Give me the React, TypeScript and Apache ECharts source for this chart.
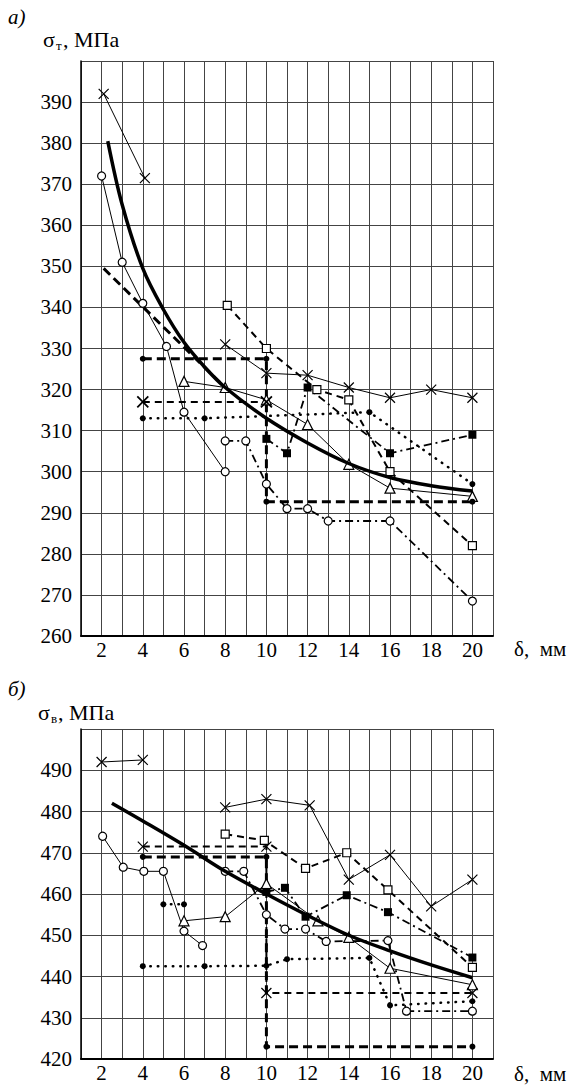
import React, { useEffect, useRef } from "react";
import * as echarts from "echarts";

const FONT = "Liberation Serif";

// ---------- Panel а) σт ----------
const tXTicks = [2, 4, 6, 8, 10, 12, 14, 16, 18, 20];
const tCrossA = [[2.1, 392], [4.1, 371.5]];
const tCrossB = [[8, 331], [10, 324], [12, 323.5], [14, 320.5], [16, 318], [18, 320], [20, 318]];
const tCircleSolid = [[2, 372], [3, 351], [4, 341], [5.15, 330.5], [6, 314.5], [8, 300]];
const tTriangle = [[6, 322], [8, 320.5], [10, 317.5], [12, 311.5], [14, 301.8], [16, 296], [20, 294]];
const tFit = [[2.3, 380.5], [3, 365], [4, 349.5], [5, 339.5], [6, 331.5], [7, 325.5], [8, 320.5], [10, 313], [12, 307], [14, 302], [16, 298.6], [18, 296.6], [20, 295.3]];
const tFitLinear = [[2.1, 349.5], [8, 320.5]];
const tDotDashThick = [[4, 327.5], [10, 327.5], [10, 292.7], [20, 292.7]];
const tCrossDashed = [[4, 317], [10, 317]];
const tDotted = [[4, 313], [7, 313], [15, 314.5], [20, 297]];
const tFilledSq = [[10, 308], [11, 304.5], [12, 320.5], [16, 304.5], [20, 309]];
const tOpenSq = [[8.1, 340.5], [10, 330], [12.45, 320], [14, 317.5], [16, 300], [20, 282]];
const tCircleDashDot = [[8, 307.5], [9, 307.5], [10, 297], [11, 291], [12, 291], [13, 288], [16, 288], [20, 268.5]];

// ---------- Panel б) σв ----------
const bCrossA = [[2, 492], [4, 492.5]];
const bCrossB = [[8, 481], [10, 483], [12.1, 481.5], [14, 463.5], [16, 469.5], [18, 457], [20, 463.5]];
const bFit = [[2.5, 482], [4, 477.7], [6, 471.8], [8, 465.5], [10, 460], [12, 454.8], [14, 450], [16, 446.2], [18, 442.8], [20, 439.7]];
const bCircleSolid = [[2.05, 474], [3.05, 466.5], [4.05, 465.5], [5, 465.5], [6, 451], [6.9, 447.5]];
const bTriangle = [[6, 453.5], [8, 454.5], [10, 462.5], [12.5, 453.5], [14, 449.5], [16, 442], [20, 438]];
const bCrossDashed = [[4, 471.5], [10, 471.5], [10, 436], [20, 436]];
const bDotDashThick = [[4, 469], [10, 469], [10, 423], [20, 423]];
const bDotted = [[4, 442.5], [7, 442.5], [10, 442.6], [11, 444.2], [15, 444.5], [16, 433], [20, 434]];
const bDottedShort = [[5, 457.5], [6, 457.5]];
const bCircleDashDot = [[8, 465.5], [8.9, 465.5], [10, 455], [10.9, 451.5], [11.9, 451.5], [12.9, 448.5], [15.9, 448.7], [16.8, 431.6], [20, 431.6]];
const bFilledSq = [[10, 460.5], [10.9, 461.5], [11.9, 454.5], [13.9, 459.7], [15.9, 455.6], [20, 444.6]];
const bOpenSq = [[8, 474.5], [9.9, 473], [11.9, 466.2], [13.9, 470], [15.9, 461], [20, 442.2]];

const CROSS = "path://M0,0L10,10M10,0L0,10";

type Mk = "cross" | "crossBold" | "circleOpen" | "triOpen" | "sqOpen" | "sqFilled" | "dot" | "none";
type Ln = "thin" | "thick" | "thickDash" | "dash" | "dashDot" | "dotted";

function marker(m: Mk) {
  switch (m) {
    case "cross":
      return { symbol: CROSS, symbolSize: 10, itemStyle: { color: "#000", borderColor: "#000", borderWidth: 1.2 } };
    case "crossBold":
      return { symbol: CROSS, symbolSize: 11, itemStyle: { color: "#000", borderColor: "#000", borderWidth: 1.8 } };
    case "circleOpen":
      return { symbol: "circle", symbolSize: 8, itemStyle: { color: "#fff", borderColor: "#000", borderWidth: 1.2 } };
    case "triOpen":
      return { symbol: "triangle", symbolSize: 10, itemStyle: { color: "#fff", borderColor: "#000", borderWidth: 1.2 } };
    case "sqOpen":
      return { symbol: "rect", symbolSize: 8, itemStyle: { color: "#fff", borderColor: "#000", borderWidth: 1.2 } };
    case "sqFilled":
      return { symbol: "rect", symbolSize: 8, itemStyle: { color: "#000", borderColor: "#000", borderWidth: 0 } };
    case "dot":
      return { symbol: "circle", symbolSize: 6, itemStyle: { color: "#000", borderColor: "#000", borderWidth: 0 } };
    default:
      return { symbol: "none", showSymbol: false, itemStyle: { color: "#000" } };
  }
}

function lineStyle(l: Ln) {
  switch (l) {
    case "thin":
      return { color: "#000", width: 1, type: "solid" };
    case "thick":
      return { color: "#000", width: 3.5, type: "solid" };
    case "thickDash":
      return { color: "#000", width: 3, type: [9, 5] };
    case "dash":
      return { color: "#000", width: 2, type: [7, 5] };
    case "dashDot":
      return { color: "#000", width: 1.8, type: [8, 4, 2, 4] };
    case "dotted":
      return { color: "#000", width: 2.5, type: [0.5, 7], cap: "round" };
  }
}

function mkSeries(name: string, data: number[][], panel: number, ln: Ln, mk: Mk, smooth: boolean | number = false, z = 2) {
  return {
    name,
    type: "line",
    xAxisIndex: panel,
    yAxisIndex: panel,
    data,
    smooth,
    z,
    lineStyle: lineStyle(ln),
    ...marker(mk),
    emphasis: { disabled: true },
  };
}

function xAxisCfg(gridIndex: number) {
  return {
    type: "value",
    gridIndex,
    min: 1,
    max: 21,
    interval: 1,
    axisLine: { show: true, onZero: false, lineStyle: { color: "#000", width: 2 } },
    axisTick: { show: false },
    axisLabel: {
      margin: 3,
      fontFamily: FONT,
      fontSize: 21,
      color: "#000",
      formatter: (v: number) => (tXTicks.includes(v) ? String(v) : ""),
    },
    splitLine: { show: true, lineStyle: { color: "#444", width: 1 } },
  };
}

function yAxisCfg(gridIndex: number, min: number, max: number) {
  return {
    type: "value",
    gridIndex,
    min,
    max,
    interval: 10,
    axisLine: { show: true, onZero: false, lineStyle: { color: "#000", width: 1.5 } },
    axisTick: { show: false },
    axisLabel: {
      margin: 9,
      fontFamily: FONT,
      fontSize: 21,
      color: "#000",
      formatter: (v: number) => (v === max ? "" : String(v)),
    },
    splitLine: { show: true, lineStyle: { color: "#444", width: 1 } },
  };
}

function txt(text: string, x: number, y: number, size: number, italic = false) {
  return {
    type: "text",
    x,
    y,
    style: {
      text,
      fontFamily: FONT,
      fontSize: size,
      fontStyle: italic ? "italic" : "normal",
      fill: "#000",
      textAlign: "left",
      textVerticalAlign: "middle",
    },
  };
}

export default function App() {
  const ref = useRef<HTMLDivElement>(null);
  useEffect(() => {
    if (!ref.current) return;
    const chart = echarts.init(ref.current, undefined, { renderer: "svg" });
    const option = {
      animation: false,
      backgroundColor: "#fff",
      textStyle: { fontFamily: FONT },
      grid: [
        { left: 81, top: 61, width: 412, height: 575 },
        { left: 81, top: 729, width: 412, height: 330 },
      ],
      xAxis: [xAxisCfg(0), xAxisCfg(1)],
      yAxis: [yAxisCfg(0, 260, 400), yAxisCfg(1, 420, 500)],
      series: [
        mkSeries("tCrossA", tCrossA, 0, "thin", "cross"),
        mkSeries("tCrossB", tCrossB, 0, "thin", "cross"),
        mkSeries("tCircleSolid", tCircleSolid, 0, "thin", "circleOpen"),
        mkSeries("tTriangle", tTriangle, 0, "thin", "triOpen"),
        mkSeries("tFit", tFit, 0, "thick", "none", 0.35, 3),
        mkSeries("tFitLinear", tFitLinear, 0, "thickDash", "none"),
        mkSeries("tDotDashThick", tDotDashThick, 0, "thickDash", "dot"),
        mkSeries("tCrossDashed", tCrossDashed, 0, "dash", "crossBold"),
        mkSeries("tDotted", tDotted, 0, "dotted", "dot"),
        mkSeries("tFilledSq", tFilledSq, 0, "dashDot", "sqFilled"),
        mkSeries("tOpenSq", tOpenSq, 0, "dash", "sqOpen"),
        mkSeries("tCircleDashDot", tCircleDashDot, 0, "dashDot", "circleOpen"),

        mkSeries("bCrossA", bCrossA, 1, "thin", "cross"),
        mkSeries("bCrossB", bCrossB, 1, "thin", "cross"),
        mkSeries("bFit", bFit, 1, "thick", "none", 0.35, 3),
        mkSeries("bCircleSolid", bCircleSolid, 1, "thin", "circleOpen"),
        mkSeries("bTriangle", bTriangle, 1, "thin", "triOpen"),
        mkSeries("bCrossDashed", bCrossDashed, 1, "dash", "cross"),
        mkSeries("bDotDashThick", bDotDashThick, 1, "thickDash", "dot"),
        mkSeries("bDotted", bDotted, 1, "dotted", "dot"),
        mkSeries("bDottedShort", bDottedShort, 1, "dotted", "dot"),
        mkSeries("bCircleDashDot", bCircleDashDot, 1, "dashDot", "circleOpen"),
        mkSeries("bFilledSq", bFilledSq, 1, "dashDot", "sqFilled"),
        mkSeries("bOpenSq", bOpenSq, 1, "dash", "sqOpen"),
      ],
      graphic: [
        txt("а)", 8, 17, 21, true),
        txt("σ", 43, 39, 22),
        txt("т", 56, 45, 13),
        txt(", МПа", 63, 39, 22),
        txt("δ,  мм", 514, 649, 21),
        txt("б)", 8, 689, 21, true),
        txt("σ", 38, 712, 22),
        txt("в", 51, 718, 13),
        txt(", МПа", 58, 712, 22),
        txt("δ,  мм", 514, 1074, 21),
      ],
    };
    chart.setOption(option as any);
    return () => chart.dispose();
  }, []);
  return (
    <div
      ref={ref}
      style={{ position: "absolute", left: 0, top: 0, width: 574, height: 1088, background: "#fff" }}
    />
  );
}
